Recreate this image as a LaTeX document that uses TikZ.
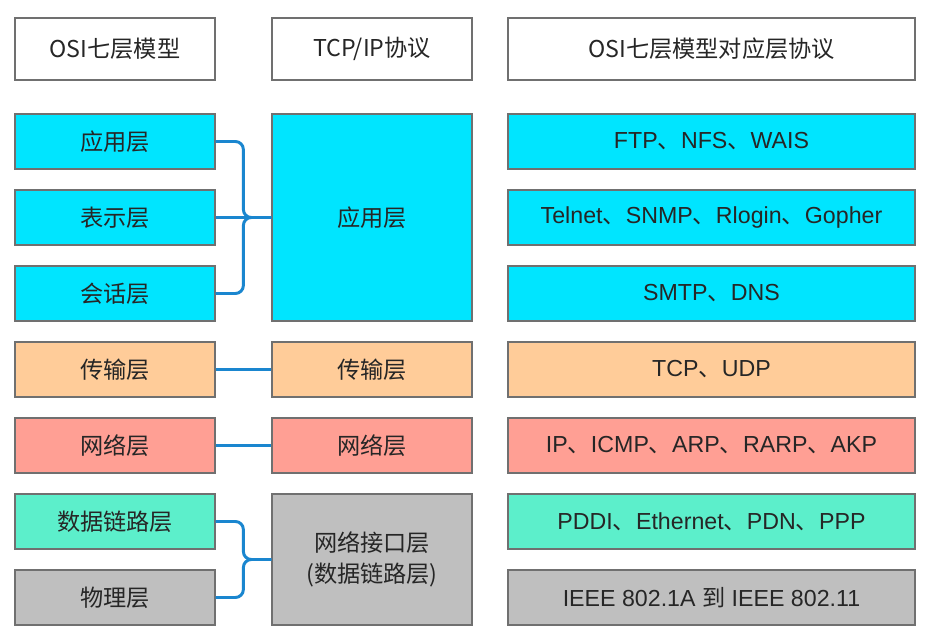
\documentclass[tikz,border=0pt]{standalone}
\usepackage{fontspec}
\setmainfont{Noto Sans CJK SC}
\newfontfamily\lat{Liberation Sans}
\usetikzlibrary{calc}
\definecolor{appcyan}{HTML}{00E5FF}
\definecolor{transpeach}{HTML}{FFCC99}
\definecolor{netsalmon}{HTML}{FF9F94}
\definecolor{linkmint}{HTML}{5CEFCB}
\definecolor{phygray}{HTML}{BFBFBF}
\definecolor{connblue}{HTML}{1A86CF}
\definecolor{edgegray}{HTML}{707070}
\newcommand{\dn}{{\normalfont 、}}
\tikzset{
  layer/.style={draw=edgegray, line width=0.9pt, minimum height=1.375cm, inner sep=0pt,
    text=black!85, font=\fontsize{16.5}{19}\selectfont},
  colA/.style={layer, minimum width=5cm},
  colB/.style={layer, minimum width=5cm},
  colC/.style={layer, minimum width=10.175cm},
  conn/.style={draw=connblue, line width=2.1pt, rounded corners=0.2cm},
}

\begin{document}
\begin{tikzpicture}
    \fill[white] (0,0) rectangle (23.175,-15.975);
    % headers
    \node[colA, fill=white, minimum height=1.55cm] (osi) at (2.875,-1.225) {OSI七层模型};
    \node[colB, fill=white, minimum height=1.55cm] (tcpip) at (9.3,-1.225) {TCP/IP协议};
    \node[colC, fill=white, minimum height=1.55cm] (proto) at (17.7875,-1.225) {OSI七层模型对应层协议};
    % OSI layers
    \node[colA, fill=appcyan] (app) at (2.875,-3.5375) {应用层};
    \node[colA, fill=appcyan] (pres) at (2.875,-5.4375) {表示层};
    \node[colA, fill=appcyan] (sess) at (2.875,-7.3375) {会话层};
    \node[colA, fill=transpeach] (trans) at (2.875,-9.2375) {传输层};
    \node[colA, fill=netsalmon] (net) at (2.875,-11.1375) {网络层};
    \node[colA, fill=linkmint] (link) at (2.875,-13.0375) {数据链路层};
    \node[colA, fill=phygray] (phy) at (2.875,-14.9375) {物理层};
    % TCP/IP layers
    \node[colB, fill=appcyan, minimum height=5.175cm] (tapp) at (9.3,-5.4375) {应用层};
    \node[colB, fill=transpeach] (ttrans) at (9.3,-9.2375) {传输层};
    \node[colB, fill=netsalmon] (tnet) at (9.3,-11.1375) {网络层};
    \node[colB, fill=phygray, minimum height=3.275cm, align=center] (tif) at (9.3,-13.9875) {网络接口层\\[3pt](数据链路层)};
    % protocols
    \node[colC, fill=appcyan] (pftp) at (17.7875,-3.5375) {\lat FTP\dn NFS\dn WAIS};
    \node[colC, fill=appcyan] (ptel) at (17.7875,-5.4375) {\lat Telnet\dn SNMP\dn Rlogin\dn Gopher};
    \node[colC, fill=appcyan] (psmtp) at (17.7875,-7.3375) {\lat SMTP\dn DNS};
    \node[colC, fill=transpeach] (ptcp) at (17.7875,-9.2375) {\lat TCP\dn UDP};
    \node[colC, fill=netsalmon] (pip) at (17.7875,-11.1375) {\lat IP\dn ICMP\dn ARP\dn RARP\dn AKP};
    \node[colC, fill=linkmint] (peth) at (17.7875,-13.0375) {\lat PDDI\dn Ethernet\dn PDN\dn PPP};
    \node[colC, fill=phygray] (pieee) at (17.7875,-14.9375) {\lat IEEE 802.1A {\normalfont 到} IEEE 802.11};
    % connectors
    \coordinate (b1) at ($(tapp.west)+(-0.7,0)$);
    \coordinate (b2) at ($(tif.west)+(-0.7,0)$);
    \draw[conn] (app.east) -| (b1) -- (tapp.west);
    \draw[conn] (sess.east) -| (b1) -- (tapp.west);
    \draw[conn] (pres.east) -- (tapp.west);
    \draw[conn] (trans.east) -- (ttrans.west);
    \draw[conn] (net.east) -- (tnet.west);
    \draw[conn] (link.east) -| (b2) -- (tif.west);
    \draw[conn] (phy.east) -| (b2) -- (tif.west);
\end{tikzpicture}
\end{document}
